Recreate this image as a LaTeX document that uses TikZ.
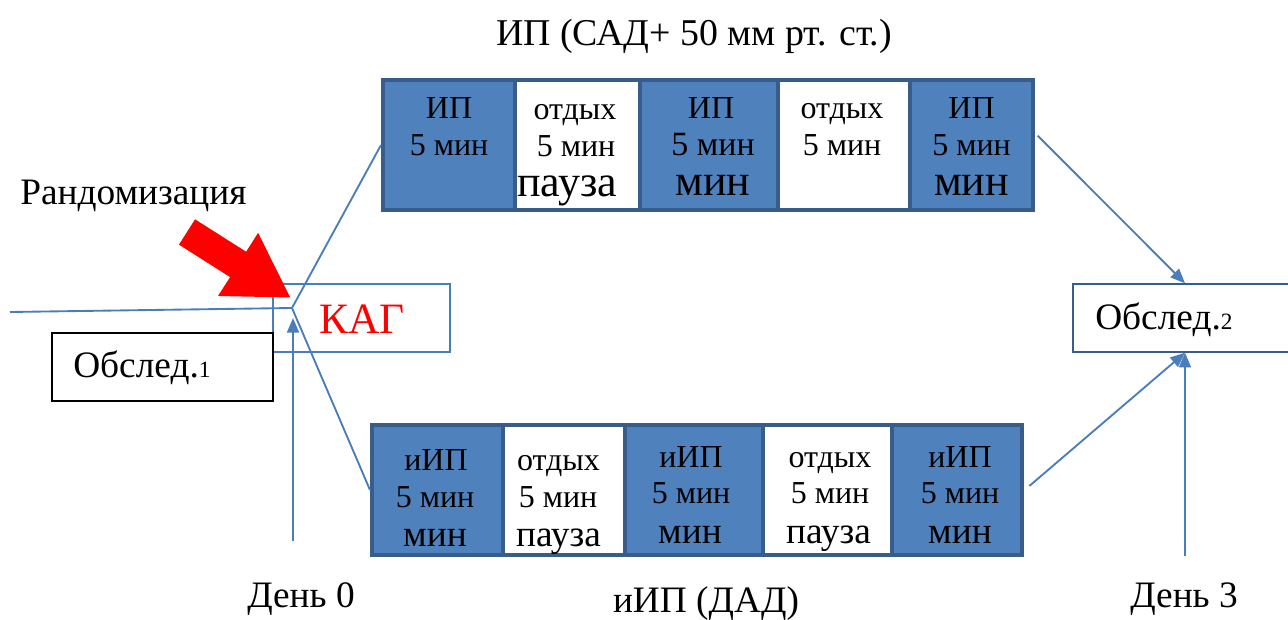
\documentclass[tikz,border=0pt]{standalone}
\usepackage{fontspec}
\setmainfont{Liberation Serif}
\usetikzlibrary{arrows.meta,calc}
\definecolor{dkfill}{HTML}{4F81BD}
\definecolor{dkline}{HTML}{385D8A}
\definecolor{ln}{HTML}{4A7EBB}
\tikzset{
 bt/.style={anchor=base, inner sep=0pt, font=\fontsize{24}{28}\selectfont},
 bb/.style={anchor=base, inner sep=0pt, font=\fontsize{33}{36}\selectfont},
 bs/.style={anchor=base, inner sep=0pt, font=\fontsize{28}{32}\selectfont},
 dk/.style={draw=dkline, line width=3pt, fill=dkfill, inner sep=0pt, minimum height=97.5pt},
 wt/.style={draw=dkline, line width=3pt, fill=white, inner sep=0pt, minimum height=97.5pt},
 conn/.style={draw=ln, line width=1.4pt},
 arr/.style={conn, -{Triangle[length=11pt,width=9pt]}},
 lbl/.style={anchor=base, inner sep=0pt, font=\fontsize{28}{32}\selectfont},
}
\begin{document}
\begin{tikzpicture}[x=0.75pt,y=-0.75pt]
\useasboundingbox (0,0) rectangle (1288,620);

% title
\node[anchor=base, inner sep=0pt, font=\fontsize{28.4}{32}\selectfont] (title) at (694,46) {ИП (САД+ 50 мм рт. ст.)};

% top row
\node[dk, minimum width=99pt]    (t1) at (449,145) {};
\node[wt, minimum width=93.75pt] (t2) at (577.5,145) {};
\node[dk, minimum width=103.5pt] (t3) at (709,145) {};
\node[wt, minimum width=99pt]    (t4) at (844,145) {};
\node[dk, minimum width=92.25pt] (t5) at (971.5,145) {};

\node[bt] (t1a) at (449,119) {ИП};
\node[bt] (t1b) at (449,156) {5 мин};
\node[bt] (t2a) at (575,120) {отдых};
\node[bt] (t2b) at (576,157) {5 мин};
\node[bb] (t2c) at (567,197) {пауза};
\node[bt] (t3a) at (711,119) {ИП};
\node[bt, font=\fontsize{25.5}{28}\selectfont] (t3b) at (713,156) {5 мин};
\node[bb] (t3c) at (713,196) {мин};
\node[bt] (t4a) at (842,119) {отдых};
\node[bt] (t4b) at (842,156) {5 мин};
\node[bt] (t5a) at (971.5,119) {ИП};
\node[bt] (t5b) at (971.5,156) {5 мин};
\node[bb] (t5c) at (971.5,196) {мин};

% bottom row
\node[dk, minimum width=98.25pt]  (b1) at (437.5,490) {};
\node[wt, minimum width=91.5pt]   (b2) at (564,490) {};
\node[dk, minimum width=103.5pt]  (b3) at (694,490) {};
\node[wt, minimum width=96.75pt]  (b4) at (827.5,490) {};
\node[dk, minimum width=97.5pt]   (b5) at (957,490) {};

\node[bt] (b1a) at (436,470) {иИП};
\node[bt] (b1b) at (435,507) {5 мин};
\node[bs] (b1c) at (435,546) {мин};
\node[bt] (b2a) at (558.5,470) {отдых};
\node[bt] (b2b) at (558,507) {5 мин};
\node[bs] (b2c) at (558.5,546) {пауза};
\node[bt] (b3a) at (691,467) {иИП};
\node[bt] (b3b) at (691,503) {5 мин};
\node[bs] (b3c) at (690,543) {мин};
\node[bt] (b4a) at (830,467) {отдых};
\node[bt] (b4b) at (830,503) {5 мин};
\node[bs] (b4c) at (828.5,543) {пауза};
\node[bt] (b5a) at (960,467) {иИП};
\node[bt] (b5b) at (960,503) {5 мин};
\node[bs] (b5c) at (960,543) {мин};

% boxes
\node[draw=ln, line width=1.1pt, minimum width=132.75pt, minimum height=51pt, inner sep=0pt] (kag) at (361.5,318) {};
\node[anchor=base, inner sep=0pt, text=red, font=\fontsize{32.5}{36}\selectfont] (kagt) at (362,333) {КАГ};
\node[draw=black, line width=1.1pt, minimum width=165.75pt, minimum height=51pt, inner sep=0pt] (o1) at (162.5,367) {};
\node[anchor=base west, inner sep=0pt, font=\fontsize{28}{30}\selectfont] (o1t) at (73,377) {Обслед.{\fontsize{17.5}{20}\selectfont 1}};
\node[draw=dkline, line width=1.1pt, minimum width=165pt, minimum height=51pt, inner sep=0pt] (o2) at (1183,318) {};
\node[anchor=base west, inner sep=0pt, font=\fontsize{28}{30}\selectfont] (o2t) at (1095,329) {Обслед.{\fontsize{17.5}{20}\selectfont 2}};

% labels
\node[anchor=base west, inner sep=0pt, font=\fontsize{28}{30}\selectfont] (rand) at (20,205) {Рандомизация};
\node[lbl] (d0) at (301,607) {День 0};
\node[lbl] (d3) at (1184,607) {День 3};
\node[anchor=base, inner sep=0pt, font=\fontsize{28}{32}\selectfont] (iip) at (706,612) {иИП (ДАД)};

% connectors
\coordinate (hub) at (292,308);
\coordinate (lend) at (10,312);
\coordinate (v0) at (293,541);
\coordinate (v3) at (1185,556);
\coordinate (rtail) at (187,232);
\coordinate (rtip) at (291,298);

\draw[conn] (lend) -- (hub);
\draw[conn] (hub) -- (t1.west);
\draw[conn] (hub) -- (b1.west);
\draw[arr] (v0) -- ($(hub)+(1,10)$);
\draw[arr] ([xshift=2pt,yshift=7pt]t5.east) -- (o2.north -| v3);
\draw[arr] ([xshift=4pt,yshift=3pt]b5.east) -- (o2.south -| v3);
\draw[arr] (v3) -- (o2.south -| v3);

% red arrow
\draw[red, line width=22.5pt, -{Triangle[length=47pt,width=52.5pt]}] (rtail) -- (rtip);
\end{tikzpicture}
\end{document}
